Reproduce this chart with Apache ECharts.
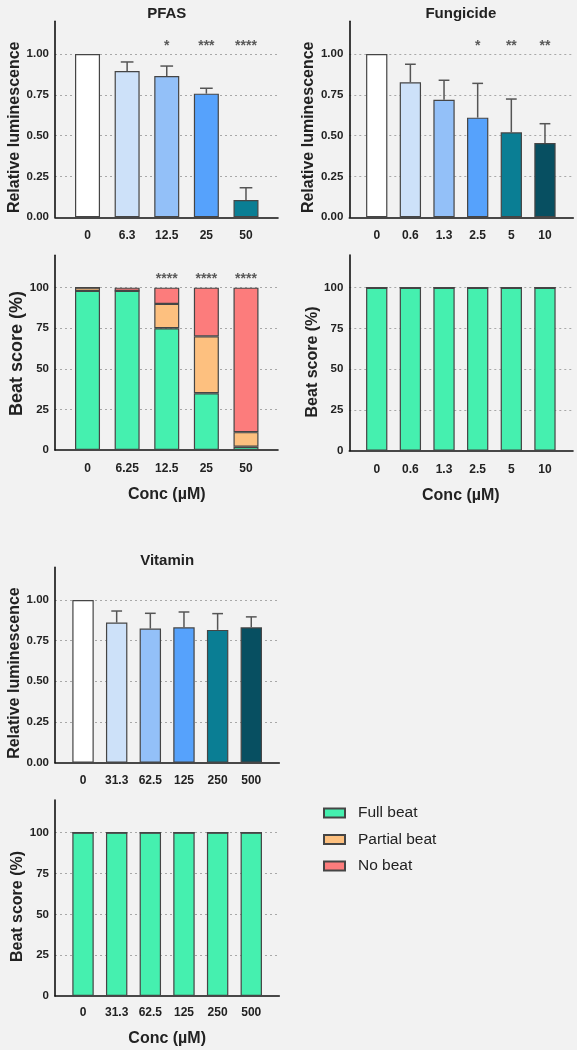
<!DOCTYPE html>
<html><head><meta charset="utf-8">
<script src="https://cdn.jsdelivr.net/npm/echarts@6/dist/echarts.min.js"></script>
<style>html,body{margin:0;padding:0;background:#f2f2f2;}#c{width:577px;height:1050px;}</style>
</head><body><div id="c"></div>
<script>
// ---------- data ----------
const pfasLumConc = ['0', '6.3', '12.5', '25', '50'];
const pfasLumMean = [1.00, 0.896, 0.865, 0.757, 0.106];
const pfasLumSD = [0, 0.055, 0.061, 0.033, 0.075];
const pfasLumStars = ['', '', '*', '***', '****'];

const pfasBeatConc = ['0', '6.25', '12.5', '25', '50'];
const pfasFull = [98, 98, 75, 35, 2];
const pfasPartial = [2, 0, 15, 35, 9];
const pfasNone = [0, 2, 10, 30, 89];
const pfasBeatStars = ['', '', '****', '****', '****'];

const fungConc = ['0', '0.6', '1.3', '2.5', '5', '10'];
const fungLumMean = [1.00, 0.827, 0.72, 0.61, 0.52, 0.455];
const fungLumSD = [0, 0.11, 0.119, 0.21, 0.204, 0.118];
const fungLumStars = ['', '', '', '*', '**', '**'];
const fungFull = [100, 100, 100, 100, 100, 100];
const fungPartial = [0, 0, 0, 0, 0, 0];
const fungNone = [0, 0, 0, 0, 0, 0];

const vitConc = ['0', '31.3', '62.5', '125', '250', '500'];
const vitLumMean = [1.00, 0.861, 0.824, 0.832, 0.816, 0.832];
const vitLumSD = [0, 0.071, 0.094, 0.094, 0.100, 0.064];
const vitFull = [100, 100, 100, 100, 100, 100];
const vitPartial = [0, 0, 0, 0, 0, 0];
const vitNone = [0, 0, 0, 0, 0, 0];

const lumTickLabels = ['0.00', '0.25', '0.50', '0.75', '1.00'];
const beatTickLabels = ['0', '25', '50', '75', '100'];
const beatNames = ['Full beat', 'Partial beat', 'No beat'];

// ---------- styles ----------
const FF = 'Arial, "Liberation Sans", Helvetica, sans-serif';
const lumPalette = ['#ffffff', '#cde1f9', '#93c0f8', '#56a2fc', '#0a7e94', '#074f61'];
const beatColors = ['#45f0af', '#fdc07f', '#fc7c7c'];
const EDGE = '#454545';

const option = {
  backgroundColor: '#f2f2f2', animation: false,
  title: [], grid: [], xAxis: [], yAxis: [], series: [],
  legend: {
    data: beatNames, orient: 'vertical', left: 323, top: 804, padding: 0,
    itemWidth: 21, itemHeight: 9, itemGap: 8.5, icon: 'rect', selectedMode: false,
    textStyle: { fontSize: 15.5, color: '#222', fontFamily: FF, lineHeight: 18, padding: [0, 0, 0, 8] }
  }
};

function addPanel(p) {
  const gB = option.grid.length, gA = gB + 1;
  const h = p.y0 - p.top;
  option.grid.push({ left: p.axL, top: p.top, width: p.axR - p.axL, height: h, outerBoundsMode: 'none' });
  option.grid.push({ left: p.barL, top: p.top, width: p.barR - p.barL, height: h, outerBoundsMode: 'none' });
  const axisLine = { show: true, onZero: false, lineStyle: { color: '#111', width: 1.6 } };
  const xB = option.xAxis.length, xA = xB + 1;
  option.xAxis.push({ type: 'value', gridIndex: gB, min: 0, max: 1, axisLine: axisLine,
    axisTick: { show: false }, axisLabel: { show: false }, splitLine: { show: false } });
  option.xAxis.push({ type: 'category', gridIndex: gA, data: p.cats,
    axisLine: { show: false }, axisTick: { show: false },
    axisLabel: { interval: 0, margin: p.xMargin, fontSize: 12, fontWeight: 'bold', color: '#222', fontFamily: FF },
    name: p.xName || '', nameLocation: 'middle', nameGap: p.xNameGap || 30,
    nameTextStyle: { fontSize: 16, fontWeight: 'bold', color: '#222', fontFamily: FF } });
  const yB = option.yAxis.length, yA = yB + 1;
  option.yAxis.push({ type: 'value', gridIndex: gB, min: 0, max: p.yMax, interval: p.yInt,
    axisLine: axisLine, axisTick: { show: false },
    axisLabel: { showMaxLabel: false, margin: 6, fontSize: 11.5, fontWeight: 'bold', color: '#222', fontFamily: FF,
      formatter: v => p.ticks[Math.round(v / p.yInt)] },
    splitLine: { show: true, showMaxLine: false, showMinLine: false, lineStyle: { color: '#a8a8a8', width: 1, type: [2, 3] } },
    name: p.yName, nameLocation: 'middle', nameGap: p.yNameGap,
    nameTextStyle: { fontSize: p.yNameSize, fontWeight: 'bold', color: '#222', fontFamily: FF, padding: [0, p.yShift, 0, 0] } });
  option.yAxis.push({ type: 'value', gridIndex: gA, min: 0, max: p.yMax, show: false });

  if (p.title) {
    option.title.push({ text: p.title, left: (p.barL + p.barR) / 2, top: p.top - 14.5, textAlign: 'center', padding: 0,
      textStyle: { fontSize: 15, fontWeight: 'bold', color: '#222', fontFamily: FF } });
  }
  if (p.mean) {
    option.series.push({ type: 'bar', xAxisIndex: xA, yAxisIndex: yA, data: p.mean, barWidth: p.barW,
      itemStyle: { color: q => lumPalette[q.dataIndex], borderColor: EDGE, borderWidth: 1.2 }, z: 2 });
    option.series.push({ type: 'custom', xAxisIndex: xA, yAxisIndex: yA, z: 3,
      data: p.mean.map((m, i) => [i, m, m + p.sd[i]]),
      renderItem: (params, api) => {
        const x = api.value(0), lo = api.value(1), hi = api.value(2);
        if (!(hi > lo)) return null;
        const b = api.coord([x, lo]), t = api.coord([x, hi]);
        const hw = api.size([1, 0])[0] * 0.16;
        const st = { stroke: '#555', lineWidth: 1.5 };
        return { type: 'group', children: [
          { type: 'line', shape: { x1: b[0], y1: b[1], x2: t[0], y2: t[1] }, style: st },
          { type: 'line', shape: { x1: t[0] - hw, y1: t[1], x2: t[0] + hw, y2: t[1] }, style: st }
        ] };
      } });
  }
  if (p.beat) {
    p.beat.forEach((arr, k) => {
      option.series.push({ type: 'bar', name: beatNames[k], stack: 'beat' + gB, xAxisIndex: xA, yAxisIndex: yA,
        data: arr, barWidth: p.barW, itemStyle: { color: beatColors[k], borderColor: EDGE, borderWidth: 1.2 }, z: 2 });
    });
  }
  if (p.stars) {
    option.series.push({ type: 'scatter', xAxisIndex: xA, yAxisIndex: yA, symbolSize: 0, z: 4,
      data: p.stars.map((s, i) => [i, p.starY]).filter((d, i) => p.stars[i]),
      label: { show: true, position: 'inside', formatter: q => p.stars[q.data[0]],
        fontSize: 14, fontWeight: 'bold', color: '#333', fontFamily: FF } });
  }
}

// PFAS luminescence
addPanel({ axL: 55, axR: 278, barL: 67.7, barR: 265.8, top: 21.3, y0: 217.3, yMax: 1.2, yInt: 0.25,
  ticks: lumTickLabels, cats: pfasLumConc, barW: 25, yName: 'Relative luminescence', yNameGap: 30.5, yNameSize: 16, yShift: 16,
  xMargin: 12, title: 'PFAS', mean: pfasLumMean, sd: pfasLumSD, stars: pfasLumStars, starY: 1.045 });
// Fungicide luminescence
addPanel({ axL: 349.3, axR: 573.3, barL: 359.9, barR: 561.8, top: 21.3, y0: 217.3, yMax: 1.2, yInt: 0.25,
  ticks: lumTickLabels, cats: fungConc, barW: 21.3, yName: 'Relative luminescence', yNameGap: 31, yNameSize: 16, yShift: 16,
  xMargin: 12, title: 'Fungicide', mean: fungLumMean, sd: fungLumSD, stars: fungLumStars, starY: 1.045 });
// PFAS beat
addPanel({ axL: 55, axR: 278, barL: 67.7, barR: 265.8, top: 255.2, y0: 450, yMax: 120, yInt: 25,
  ticks: beatTickLabels, cats: pfasBeatConc, barW: 25, yName: 'Beat score (%)', yNameGap: 26, yNameSize: 18, yShift: 2,
  xMargin: 13, xName: 'Conc (µM)', xNameGap: 36.5, beat: [pfasFull, pfasPartial, pfasNone], stars: pfasBeatStars, starY: 105.5 });
// Fungicide beat
addPanel({ axL: 349.3, axR: 573, barL: 359.9, barR: 561.8, top: 255.1, y0: 450.7, yMax: 120, yInt: 25,
  ticks: beatTickLabels, cats: fungConc, barW: 21.3, yName: 'Beat score (%)', yNameGap: 28.5, yNameSize: 16, yShift: 18,
  xMargin: 13, xName: 'Conc (µM)', xNameGap: 36.5, beat: [fungFull, fungPartial, fungNone] });
// Vitamin luminescence
addPanel({ axL: 55, axR: 279.3, barL: 66.2, barR: 268.1, top: 567.4, y0: 762.7, yMax: 1.2, yInt: 0.25,
  ticks: lumTickLabels, cats: vitConc, barW: 21.4, yName: 'Relative luminescence', yNameGap: 30.5, yNameSize: 16, yShift: 16,
  xMargin: 12, title: 'Vitamin', mean: vitLumMean, sd: vitLumSD });
// Vitamin beat
addPanel({ axL: 55, axR: 279.3, barL: 66.2, barR: 268.1, top: 800, y0: 996, yMax: 120, yInt: 25,
  ticks: beatTickLabels, cats: vitConc, barW: 21.4, yName: 'Beat score (%)', yNameGap: 27.5, yNameSize: 16, yShift: 17,
  xMargin: 11, xName: 'Conc (µM)', xNameGap: 34.5, beat: [vitFull, vitPartial, vitNone] });

const chart = echarts.init(document.getElementById('c'), null, { renderer: 'canvas' });
chart.setOption(option);
</script></body></html>
